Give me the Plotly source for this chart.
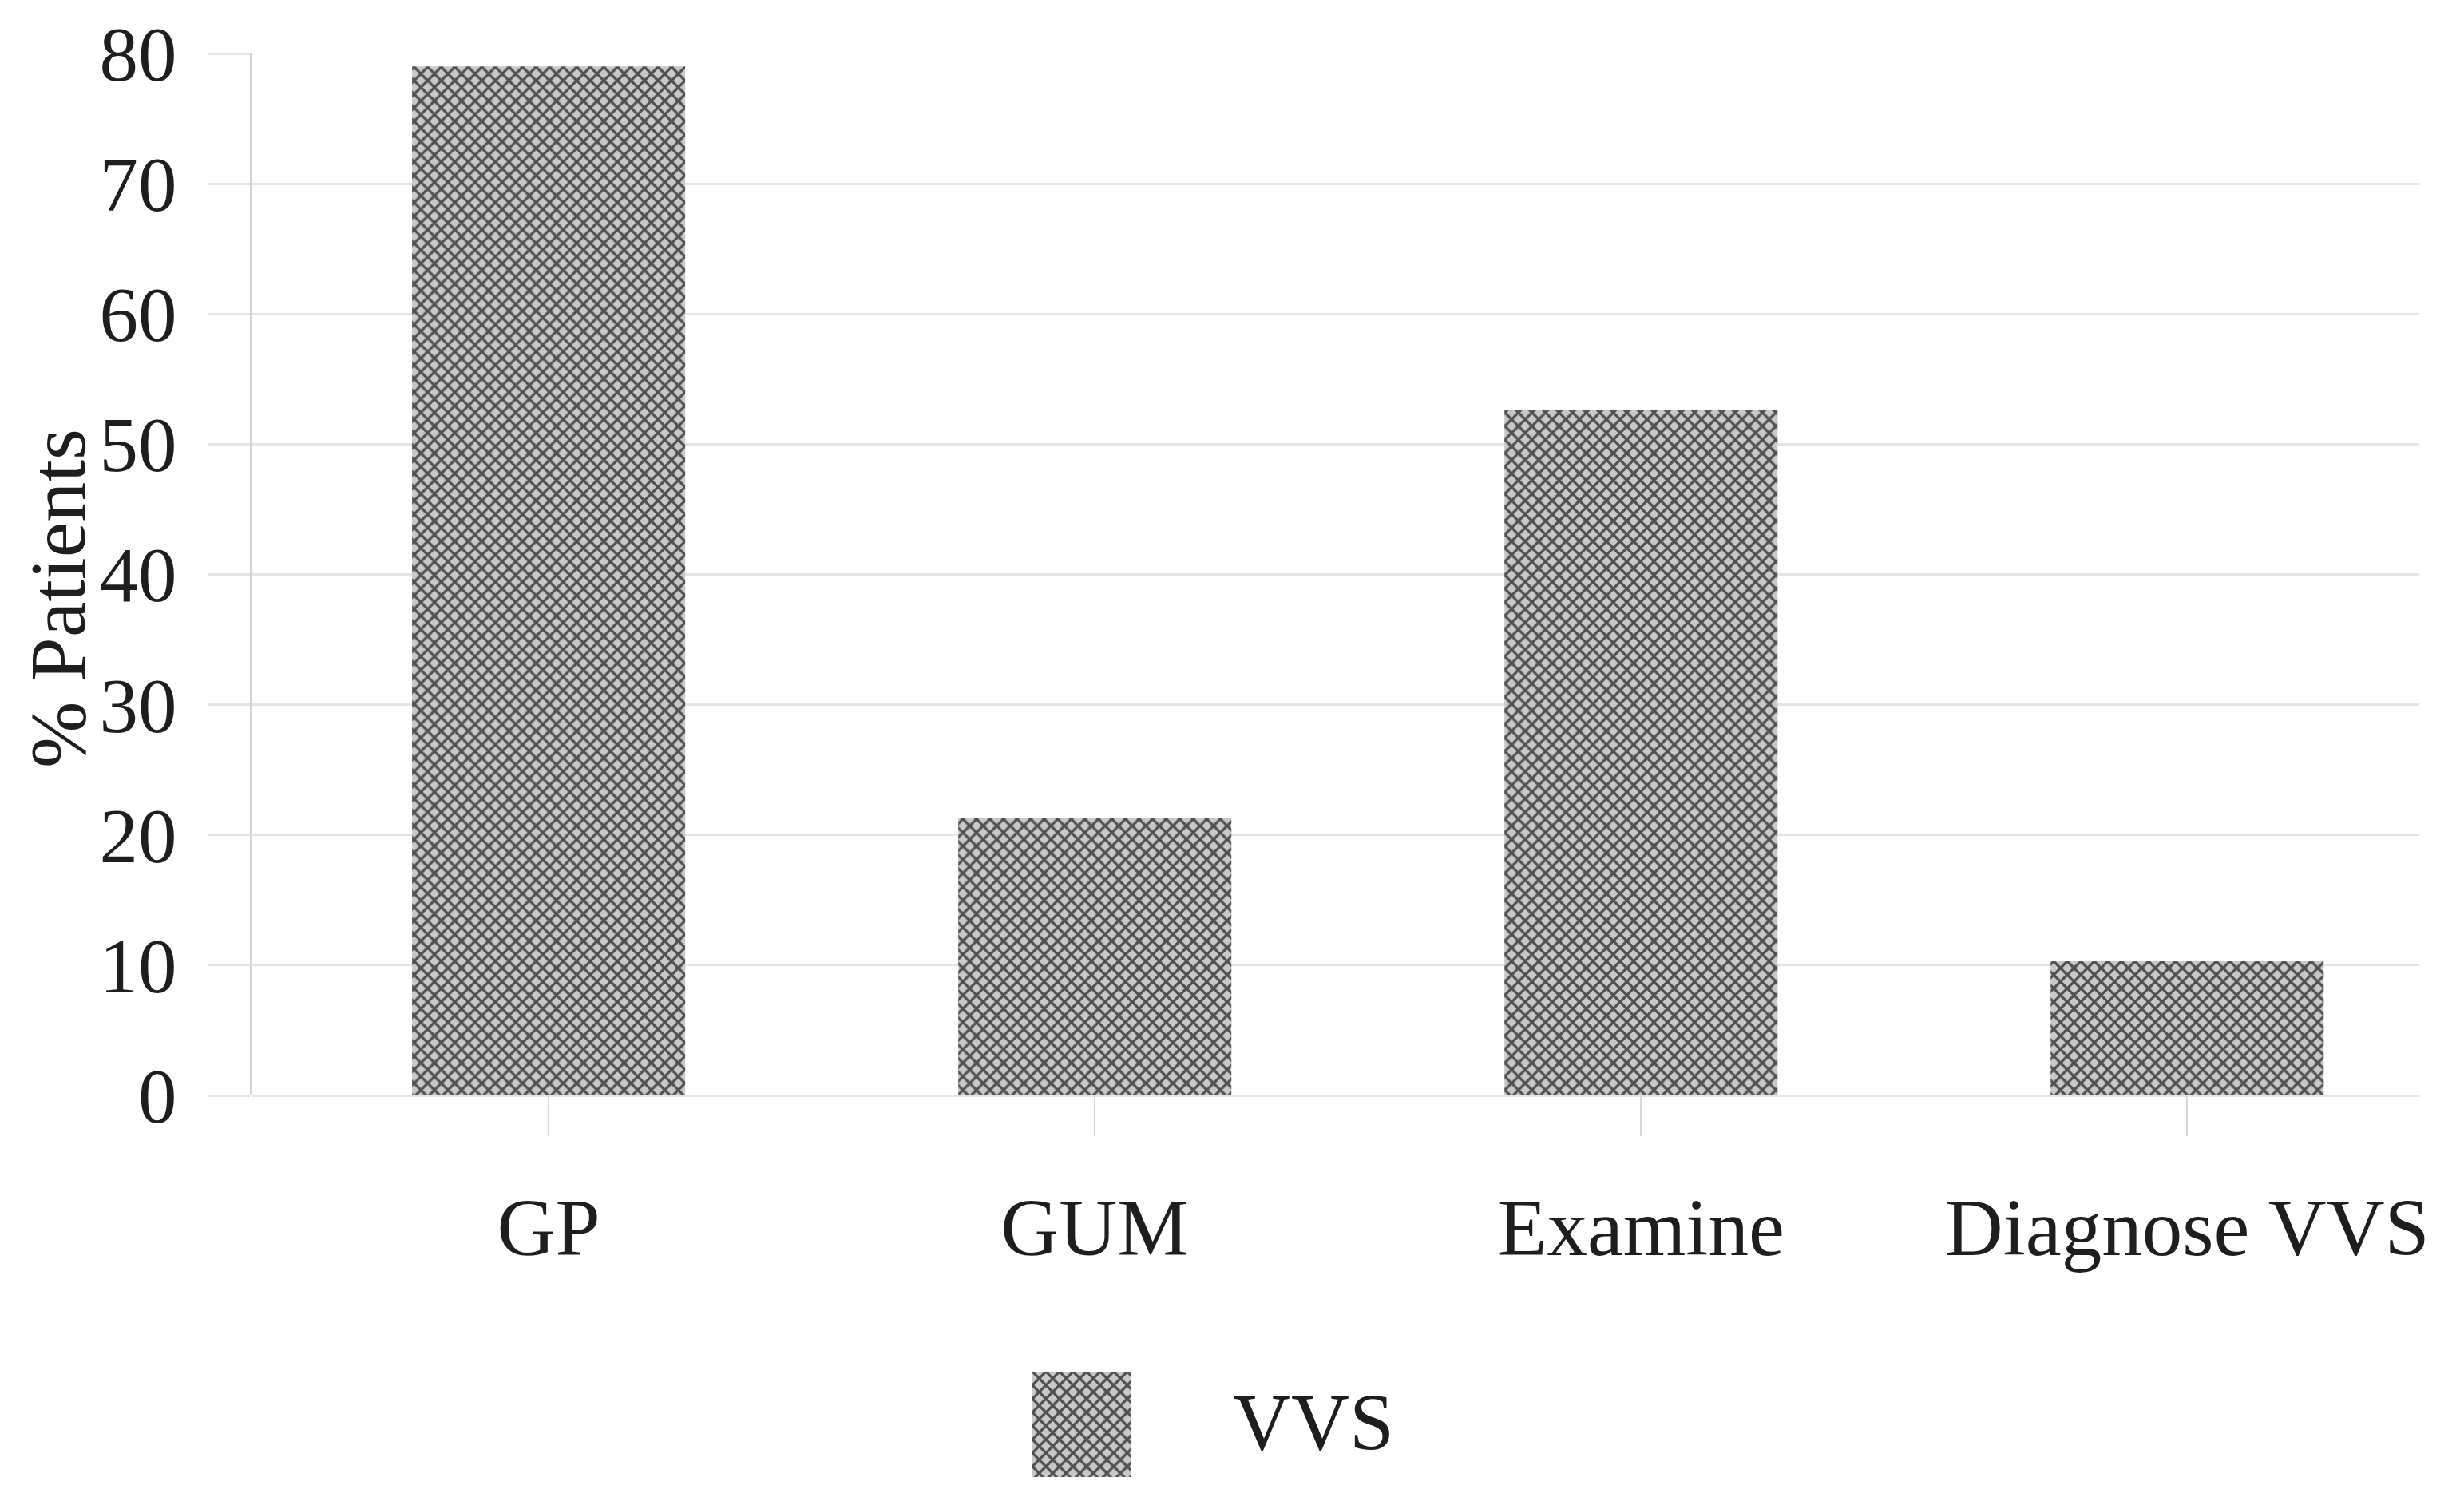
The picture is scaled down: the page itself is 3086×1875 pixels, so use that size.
import plotly.graph_objects as go

# Survey results: share of patients for each step of care
categories = ["GP", "GUM", "Examine", "Diagnose VVS"]
vvs_percent = [79.0, 21.3, 52.6, 10.3]
series_name = "VVS"
y_ticks = [0, 10, 20, 30, 40, 50, 60, 70, 80]

FONT = "Liberation Serif, Times New Roman, serif"
GRID = "#e4e4e4"
TEXT = "#1e1e1e"

# crosshatch fill used for the bars and the legend key
hatch = dict(shape="x", fgcolor="#505050", bgcolor="#c8c8c8",
             size=12, solidity=0.48, fillmode="replace")

# page geometry (pixels)
W, H = 3086, 1875
M_L, M_R, M_T, M_B = 315, 56, 67, 20
plot_w = W - M_L - M_R
paper_h = H - M_T - M_B


def px_y(y):
    """paper y-fraction for a pixel row measured from the top"""
    return (H - M_B - y) / paper_h


def px_x(x):
    """paper x-fraction for a pixel column measured from the left"""
    return (x - M_L) / plot_w


fig = go.Figure()

fig.add_trace(go.Bar(
    x=categories, y=vvs_percent, name=series_name, width=0.5,
    marker=dict(color="#c8c8c8", pattern=hatch, line=dict(width=0)),
    showlegend=False, xaxis="x", yaxis="y",
))

# legend key drawn as a single hatched block on its own small axes
fig.add_trace(go.Bar(
    x=[0], y=[1], width=1, name=series_name,
    marker=dict(color="#c8c8c8", pattern=hatch, line=dict(width=0)),
    showlegend=False, xaxis="x2", yaxis="y2", hoverinfo="skip",
))

fig.update_layout(
    width=W, height=H,
    margin=dict(l=M_L, r=M_R, t=M_T, b=M_B, autoexpand=False),
    paper_bgcolor="white", plot_bgcolor="white",
    font=dict(family=FONT, color=TEXT, size=96),
    showlegend=False,
    xaxis=dict(
        domain=[0, 1], range=[-0.544, 3.425], automargin=False,
        showgrid=False, zeroline=False, showline=False,
        ticks="outside", ticklen=50, tickwidth=2, tickcolor="#d8d8d8",
        tickfont=dict(size=101, family=FONT, color=TEXT),
        ticklabelstandoff=28,
    ),
    yaxis=dict(
        domain=[px_y(1372), 1.0], range=[0, 80], automargin=False,
        tickvals=y_ticks,
        showgrid=True, gridcolor=GRID, gridwidth=3,
        zeroline=True, zerolinecolor=GRID, zerolinewidth=3,
        showline=True, linecolor="#d4d4d4", linewidth=2,
        ticks="outside", ticklen=52, tickwidth=3, tickcolor=GRID,
        tickfont=dict(size=97, family=FONT, color=TEXT),
        ticklabelstandoff=20,
    ),
    xaxis2=dict(domain=[px_x(1293), px_x(1417)], range=[-0.5, 0.5],
                visible=False, anchor="y2", automargin=False),
    yaxis2=dict(domain=[px_y(1850), px_y(1718)], range=[0, 1],
                visible=False, anchor="x2", automargin=False),
    annotations=[
        dict(text="% Patients", xref="paper", yref="paper",
             x=px_x(72), y=px_y(750), xanchor="center", yanchor="middle",
             textangle=-90, showarrow=False,
             font=dict(size=100, family=FONT, color=TEXT)),
        dict(text=series_name, xref="paper", yref="paper",
             x=px_x(1645), y=px_y(1782), xanchor="center", yanchor="middle",
             showarrow=False,
             font=dict(size=101, family=FONT, color=TEXT)),
    ],
)

fig.write_html("out.html")
